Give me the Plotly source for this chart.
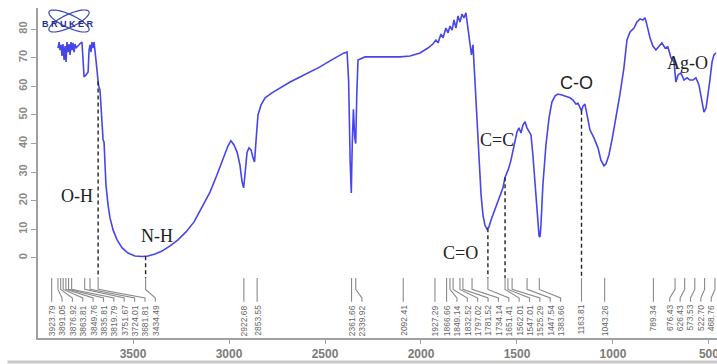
import numpy as np
import plotly.graph_objects as go

# ---------------- data ----------------
WAVENUMBER = [3891, 3885, 3880, 3875, 3870, 3865, 3859, 3854, 3849, 3844, 3839, 3833, 3828, 3823, 3818, 3813,
              3807, 3802, 3797, 3785, 3775, 3766, 3760, 3755, 3745, 3734, 3729, 3724, 3719, 3714, 3708, 3703,
              3693, 3688, 3680, 3672, 3667, 3656, 3651, 3646, 3641, 3630, 3620, 3604, 3583, 3557, 3526, 3490,
              3453, 3422, 3385, 3349, 3307, 3266, 3224, 3182, 3141, 3099, 3063, 3031, 3005, 2990, 2974, 2958,
              2943, 2932, 2924, 2917, 2906, 2896, 2885, 2875, 2867, 2859, 2849, 2833, 2812, 2776, 2734, 2682,
              2630, 2578, 2526, 2474, 2432, 2401, 2385, 2377, 2369, 2363, 2358, 2352, 2345, 2340, 2334, 2328,
              2292, 2240, 2162, 2109, 2057, 2005, 1964, 1938, 1922, 1911, 1896, 1885, 1870, 1859, 1849, 1838,
              1828, 1818, 1807, 1797, 1786, 1776, 1766, 1755, 1745, 1737, 1729, 1719, 1708, 1698, 1687, 1677,
              1667, 1656, 1646, 1635, 1620, 1604, 1589, 1573, 1563, 1552, 1542, 1531, 1521, 1510, 1500, 1490,
              1479, 1469, 1458, 1448, 1438, 1427, 1417, 1406, 1396, 1385, 1380, 1375, 1365, 1349, 1333, 1318,
              1302, 1287, 1266, 1245, 1224, 1208, 1193, 1182, 1172, 1164, 1156, 1146, 1135, 1120, 1099, 1078,
              1063, 1047, 1036, 1021, 1005, 984, 964, 943, 927, 911, 890, 875, 859, 844, 833, 823,
              807, 792, 776, 760, 745, 729, 714, 698, 682, 672, 661, 646, 630, 614, 599, 583,
              568, 552, 536, 526, 515, 505, 495, 484, 474, 463]
TRANSMITTANCE = [73.4, 75.5, 72.7, 74.5, 70.6, 74.8, 69.2, 74.1, 68.5, 75.5, 72.0, 74.8, 71.0, 75.5, 72.7, 75.2,
                 72.0, 74.8, 73.4, 74.5, 75.0, 75.5, 65.7, 63.3, 64.0, 65.0, 72.7, 74.5, 72.0, 75.5, 73.4, 75.5,
                 69.2, 65.7, 60.5, 58.7, 53.5, 41.3, 40.5, 32.5, 25.5, 18.5, 14.0, 9.8, 6.3, 3.5, 1.7, 0.7,
                 0.5, 0.7, 1.4, 2.4, 4.2, 6.3, 9.1, 12.6, 17.5, 23.0, 29.0, 35.0, 39.2, 41.0, 39.5, 37.0,
                 32.5, 26.6, 24.5, 29.0, 37.0, 38.5, 37.8, 35.0, 33.6, 41.3, 50.0, 53.5, 56.0, 57.7, 59.4, 61.5,
                 63.3, 65.0, 66.8, 68.9, 70.6, 71.7, 72.0, 62.0, 34.0, 22.7, 40.0, 52.0, 42.0, 40.0, 58.0, 69.2,
                 70.3, 70.3, 70.3, 70.3, 70.6, 71.7, 73.4, 74.8, 76.2, 75.2, 78.3, 77.0, 80.4, 78.7, 81.1, 79.7,
                 83.2, 80.4, 84.6, 82.5, 85.3, 83.9, 85.7, 80.4, 74.5, 71.0, 74.5, 62.0, 50.0, 34.3, 22.0, 15.0,
                 11.5, 10.1, 10.8, 13.3, 16.0, 18.5, 21.7, 24.5, 28.0, 30.0, 31.5, 34.3, 37.8, 41.3, 44.0, 45.5,
                 43.7, 46.5, 47.6, 45.5, 44.5, 43.0, 36.0, 27.3, 16.8, 7.7, 7.3, 11.5, 25.5, 39.5, 49.0, 54.5,
                 56.6, 57.3, 57.0, 56.6, 56.0, 55.2, 53.8, 54.1, 52.4, 51.4, 53.1, 53.8, 50.0, 44.8, 42.0, 38.5,
                 34.3, 32.2, 32.9, 36.0, 41.3, 49.0, 57.0, 66.4, 76.2, 79.0, 80.4, 82.5, 83.6, 83.2, 84.0, 81.5,
                 77.0, 74.1, 72.7, 74.0, 75.2, 73.4, 73.8, 70.0, 68.5, 61.5, 64.0, 64.7, 62.2, 63.0, 62.2, 62.2,
                 63.0, 60.5, 55.2, 51.0, 52.4, 57.0, 62.2, 68.5, 71.0, 71.7]

PEAKS = [3923.79, 3891.05, 3876.92, 3863.81, 3849.76, 3835.81, 3819.79, 3751.67, 3724.01, 3681.81,
         3434.49, 2922.68, 2853.55, 2361.66, 2339.92, 2092.41, 1927.29, 1866.66, 1849.14, 1832.52,
         1797.02, 1781.52, 1734.14, 1651.41, 1562.01, 1547.01, 1525.29, 1447.54, 1383.66, 1163.81,
         1043.26, 789.34, 676.43, 626.43, 573.53, 522.70, 468.76]

BANDS = ["O-H", "N-H", "C=O", "C=C", "C-O", "Ag-O"]
BAND_PEAK = [3681.81, 3434.49, 1651.41, 1562.01, 1163.81, None]

X_TICKS = [3500, 3000, 2500, 2000, 1500, 1000, 500]
Y_TICKS = [0, 10, 20, 30, 40, 50, 60, 70, 80]

# ---------------- layout parameters ----------------
X_RANGE = [3995, 458]
Y_RANGE = [-28, 87.4]
BAND_TEXT_POS = [(3794, 21.7), (3375, 7.7), (1792, 1.7), (1604, 41.3), (1188, 61.0), (610, 68.2)]
BAND_FONT = ["Liberation Serif", "Liberation Serif", "Liberation Serif", "Liberation Serif",
             "Liberation Sans", "Liberation Serif"]
LABEL_GAP = 54          # minimum spacing between peak labels (cm-1)
LABEL_BOUNDS = (3932, 488)
TICK_TOP, TICK_KNEE, TICK_FOOT, TICK_END, TEXT_TOP = -7, -11, -14, -15.3, -15.8


def spread_labels(peaks, gap, bounds):
    pos = list(peaks)
    pos[0] = min(pos[0], bounds[0])
    for i in range(1, len(pos)):
        pos[i] = min(pos[i], pos[i - 1] - gap)
    pos[-1] = max(pos[-1], bounds[1])
    for i in range(len(pos) - 2, -1, -1):
        pos[i] = max(pos[i], pos[i + 1] + gap)
    return pos


label_pos = spread_labels(PEAKS, LABEL_GAP, LABEL_BOUNDS)

fig = go.Figure()

# spectrum
fig.add_trace(go.Scatter(x=WAVENUMBER, y=TRANSMITTANCE, mode="lines",
                         line=dict(color="rgb(70,70,235)", width=1.6), hoverinfo="skip"))

# peak leaders
lx, ly = [], []
for p, l in zip(PEAKS, label_pos):
    lx += [p, p, l, l, None]
    ly += [TICK_TOP, TICK_KNEE, TICK_FOOT, TICK_END, None]
fig.add_trace(go.Scatter(x=lx, y=ly, mode="lines", line=dict(color="#8a8a8a", width=1.1),
                         hoverinfo="skip"))

# dashed band markers
wn_asc = np.array(WAVENUMBER[::-1], dtype=float)
t_asc = np.array(TRANSMITTANCE[::-1], dtype=float)
dx, dy = [], []
for bp in BAND_PEAK:
    if bp is None:
        continue
    dx += [bp, bp, None]
    dy += [float(np.interp(bp, wn_asc, t_asc)), TICK_TOP, None]
fig.add_trace(go.Scatter(x=dx, y=dy, mode="lines",
                         line=dict(color="#222222", width=1.4, dash="4px,3px"), hoverinfo="skip"))

annotations = []
for p, l in zip(PEAKS, label_pos):
    annotations.append(dict(x=l, y=TEXT_TOP, xref="x", yref="y", text=f"{p:.2f}",
                            showarrow=False, textangle=-90, xanchor="center", yanchor="top",
                            font=dict(family="Liberation Sans", size=8.5, color="#666666")))
for name, (bx, by), fam in zip(BANDS, BAND_TEXT_POS, BAND_FONT):
    annotations.append(dict(x=bx, y=by, xref="x", yref="y", text=name, showarrow=False,
                            font=dict(family=fam, size=18, color="#222222")))

# Bruker logo
annotations.append(dict(x=(68 - 38) / 679, y=(338 - 24) / 330, xref="paper", yref="paper",
                        xanchor="center", yanchor="middle",
                        text="<b>B R U K E R</b>", showarrow=False,
                        font=dict(family="Liberation Sans", size=9, color="#1f2f8f")))
shapes = []
th = np.linspace(0, 2 * np.pi, 60)
for ang in (np.deg2rad(25), np.deg2rad(-25)):
    px = 69 + 22 * np.cos(th) * np.cos(ang) - 6.5 * np.sin(th) * np.sin(ang)
    py = 21 + 22 * np.cos(th) * np.sin(ang) + 6.5 * np.sin(th) * np.cos(ang)
    xs = (px - 38) / 679
    ys = (338 - py) / 330
    path = "M " + " L ".join(f"{a:.4f},{b:.4f}" for a, b in zip(xs, ys)) + " Z"
    shapes.append(dict(type="path", path=path, xref="paper", yref="paper",
                       line=dict(color="#3a4ab0", width=1.2)))

# bottom border band
shapes.append(dict(type="line", xref="paper", yref="paper", x0=-0.045, x1=1.0,
                   y0=-0.0727, y1=-0.0727, line=dict(color="#c8c8c8", width=3)))

fig.update_layout(
    width=717, height=364,
    margin=dict(l=38, r=0, t=8, b=26, autoexpand=False),
    paper_bgcolor="white", plot_bgcolor="white",
    showlegend=False,
    annotations=annotations,
    shapes=shapes,
    xaxis=dict(range=X_RANGE, showgrid=False, zeroline=False, showline=True, automargin=False,
               linecolor="#a0a0a0", linewidth=1.5, ticks="outside", ticklen=4,
               tickcolor="#a0a0a0", tickvals=X_TICKS, ticktext=[str(v) for v in X_TICKS],
               tickfont=dict(family="Liberation Sans", size=12, color="#7a7a7a", weight="bold"),
               ticklabeloverflow="allow"),
    yaxis=dict(range=Y_RANGE, showgrid=False, zeroline=False, showline=True, automargin=False,
               linecolor="#a0a0a0", linewidth=1.5, ticks="outside", ticklen=5,
               tickcolor="#a0a0a0", tickvals=Y_TICKS, tickangle=-90,
               tickfont=dict(family="Liberation Sans", size=11, color="#8a8a8a", weight="bold")),
)

fig.write_html("out.html", config={"displayModeBar": False},
               post_script="document.body.style.margin='0';document.body.style.overflow='hidden';")
